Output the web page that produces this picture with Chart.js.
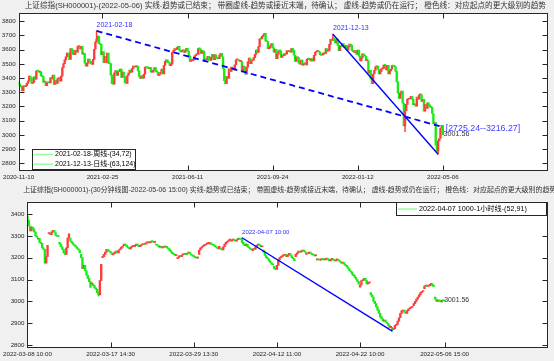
<!DOCTYPE html>
<html>
<head>
<meta charset="utf-8">
<script src="https://cdn.jsdelivr.net/npm/chart.js@4.4.0/dist/chart.umd.min.js"></script>
<style>
  html, body { margin: 0; padding: 0; background: #f0f0f0; }
  #wrap { position: relative; width: 554px; height: 361px; overflow: hidden; }
  .box { position: absolute; left: 0; width: 554px; }
</style>
</head>
<body>
<div id="wrap">
  <div class="box" style="top:0;height:183px"><canvas id="dayChart"></canvas></div>
  <div class="box" style="top:183px;height:178px"><canvas id="minChart"></canvas></div>
</div>
<script>
// ---- daily panel data (SH000001, 2020-11-10 .. 2022-05-06, closes) ----
const dayFirstOpen = 3373;
const dayCloses = [
  3360,3342,3338,3310,3346,3339,3347,3363,3378,3414,3402,3362,3369,3408,3392,
  3451,3449,3442,3444,3416,3410,3371,3373,3347,3369,3367,3366,3404,3394,3421,3356,3382,3363,3396,3397,3379,3414,3473,
  3502,3528,3550,3576,3570,3531,3608,3598,3566,3566,3596,3583,3621,3621,3606,3624,3569,3573,3505,3483,
  3505,3533,3517,3501,3496,3532,3603,3655,3675,3696,3642,3637,3564,3585,3509,
  3551,3508,3576,3503,3502,3421,3360,3357,3436,3453,3419,3446,3445,3463,3404,3443,3411,3367,3363,3418,3435,3457,3441,
  3466,3484,3478,3479,3482,3450,3412,3397,3416,3399,3427,3477,3473,3472,3466,3474,3441,3442,3457,3474,3447,
  3442,3419,3427,3441,3463,3429,3490,3517,3529,3510,3507,3487,3497,3581,3593,3608,3601,3615,
  3624,3597,3584,3592,3599,3580,3591,3610,3590,3556,3518,3525,3525,3529,3557,3566,3566,3607,3606,3574,3591,
  3588,3518,3534,3530,3553,3525,3524,3548,3567,3529,3564,3540,3539,3537,3562,3574,3550,3467,3382,3361,3412,3397,
  3465,3447,3477,3466,3458,3494,3529,3532,3524,3517,3517,3446,3485,3465,3427,3477,3514,3540,3501,3522,3528,3544,
  3567,3597,3581,3621,3676,3675,3693,3703,3715,3662,3656,3607,3613,3628,3642,3613,3582,3602,3536,3568,
  3592,3591,3546,3561,3558,3572,3568,3593,3587,3594,3582,3609,3597,3562,3518,3547,
  3544,3505,3498,3526,3491,3498,3507,3492,3532,3539,3533,3521,3537,3520,3560,3582,3589,3592,3584,3564,3562,3564,
  3577,3573,3607,3589,3595,3637,3673,3666,3681,3662,3647,3675,3632,3593,3625,3622,3643,3618,3615,3630,3597,3619,3640,
  3632,3595,3586,3580,3593,3567,3597,3555,3521,3541,3570,3558,3555,3523,3524,3434,3455,3394,3361,
  3429,3453,3479,3485,3462,3429,3447,3465,3468,3491,3490,3457,3489,3429,3451,3462,
  3488,3484,3481,3447,3373,3293,3256,3296,3309,3223,3064,3170,3215,3251,3253,3259,3271,3250,3212,3214,3203,3266,3252,
  3282,3283,3236,3251,3167,3213,3186,3225,3211,3195,3194,3151,3079,3087,2928,2886,2958,2975,3047,
  3068,3001.56
];
// [index, low, high] for the visible shadows
const dayWicks = [[66, 3655, 3731.69], [266, 3666, 3708.94], [327, 3023.3, 3170], [355, 2863.65, 2958]];
const dayTickIdx = [0, 71, 143, 215, 287, 359];
const dayTickLabels = ['2020-11-10', '2021-02-25', '2021-06-11', '2021-09-24', '2022-01-12', '2022-05-06'];
const dayYTicks = [2800, 2900, 3000, 3100, 3200, 3300, 3400, 3500, 3600, 3700, 3800];
const dayDashed = [{x: 66, y: 3731.69}, {x: 359, y: 3055}];
const daySolid = [{x: 266, y: 3708.94}, {x: 355, y: 2863.65}];

// ---- 30 minute panel data (2022-03-08 10:00 .. 2022-05-06 15:00) ----
const minDayOpens = [3390,3285,3310,3270,3290,3215,3080,3200,3212,3255,3250,3262,3262,3252,3195,3220,3215,3262,3245,3275,
  3285,3232,3235,3160,3210,3205,3215,3190,3196,3190,3150,3065,3040,2930,2880,2955,2980,3058,3020];
const minCloses = [
  3372,3345,3322,3340,3332,3318,3300,3293,  3288,3270,3265,3245,3238,3175,3205,3256,
  3312,3305,3318,3325,3315,3302,3298,3296,  3262,3250,3238,3222,3215,3245,3290,3309,
  3275,3268,3260,3255,3248,3242,3235,3223,  3200,3150,3165,3140,3120,3105,3090,3064,
  3080,3072,3062,3055,3040,3030,3095,3170,  3205,3215,3225,3238,3232,3228,3222,3215,
  3218,3225,3230,3222,3235,3240,3248,3251,  3262,3258,3250,3245,3240,3248,3252,3253,
  3255,3262,3258,3250,3255,3260,3262,3259,  3266,3272,3268,3270,3275,3273,3270,3271,
  3258,3254,3248,3252,3245,3250,3248,3250,  3245,3240,3232,3225,3218,3215,3210,3212,
  3200,3208,3205,3212,3218,3215,3220,3214,  3225,3218,3212,3208,3205,3200,3198,3203,
  3235,3245,3250,3255,3258,3262,3265,3266,  3268,3262,3258,3255,3250,3245,3240,3252,
  3240,3235,3250,3262,3270,3275,3280,3282,  3278,3285,3280,3276,3282,3288,3285,3283,
  3270,3260,3255,3262,3250,3245,3240,3236,  3240,3238,3250,3258,3262,3255,3250,3251,
  3225,3210,3200,3195,3185,3178,3170,3167,  3150,3146,3165,3190,3200,3205,3210,3213,
  3215,3205,3212,3220,3210,3200,3195,3186,  3215,3222,3230,3225,3228,3235,3230,3225,
  3222,3218,3225,3220,3215,3212,3208,3211,  3192,3190,3188,3195,3192,3190,3193,3195,
  3190,3185,3192,3195,3188,3185,3190,3194,  3185,3180,3175,3178,3170,3165,3158,3151,
  3140,3135,3125,3118,3110,3100,3090,3079,  3075,3095,3100,3106,3095,3080,3085,3087,
  3030,3020,3000,2990,2975,2960,2945,2928,  2920,2910,2915,2905,2900,2890,2880,2886,
  2870,2875,2890,2895,2910,2925,2945,2958,  2960,2950,2945,2958,2965,2970,2972,2975,
  2990,3000,3010,3020,3030,3040,3045,3047,  3070,3075,3068,3072,3078,3080,3070,3068,
  3010,3000,3005,3002,2998,3005,3003,3001.56
];
const minWicks = [[53, 3023.3, 3040], [272, 2863.65, 2880], [160, 3270, 3291]];
const minTickIdx = [0, 62, 124, 186, 248, 311];
const minTickLabels = ['2022-03-08 10:00', '2022-03-17 14:30', '2022-03-29 13:30', '2022-04-12 11:00', '2022-04-22 10:00', '2022-05-06 15:00'];
const minYTicks = [2800, 2900, 3000, 3100, 3200, 3300, 3400];
const minSolid = [{x: 160, y: 3291}, {x: 272, y: 2863.65}];

const FONT = "'Liberation Sans', Arial, 'Noto Sans CJK SC', sans-serif";
const UP = '#ff3b3b', DOWN = '#14ec14', BLUE = '#0000ff', LEG_GREEN = '#9cfc9c';

function candleSet(closes, openOf) {
  return closes.map((c, i) => ({x: i, y: [openOf(i), c]}));
}
function colorOf(ctx) {
  const r = ctx.raw;
  return r && r.y[1] >= r.y[0] ? UP : DOWN;
}
function wickSet(wicks, bodies) {
  return wicks.map(w => ({x: w[0], y: [w[1], w[2]], up: bodies[w[0]].y[1] >= bodies[w[0]].y[0]}));
}

// draws the box, inward ticks, title, notes and legend
const matlabBox = {
  id: 'matlabBox',
  beforeDraw(chart) {
    const a = chart.chartArea, ctx = chart.ctx;
    ctx.save();
    ctx.fillStyle = '#ffffff';
    ctx.fillRect(a.left, a.top, a.right - a.left, a.bottom - a.top);
    ctx.restore();
  },
  afterDraw(chart, args, opts) {
    const ctx = chart.ctx, a = chart.chartArea, xs = chart.scales.x, ys = chart.scales.y;
    ctx.save();
    ctx.strokeStyle = '#262626';
    ctx.lineWidth = 1;
    const L = Math.round(a.left) + 0.5, R = Math.round(a.right) - 0.5;
    const T = Math.round(a.top) + 0.5, B = Math.round(a.bottom) - 0.5;
    ctx.strokeRect(L, T, R - L, B - T);
    ctx.beginPath();
    xs.ticks.forEach(t => {
      const p = Math.round(xs.getPixelForValue(t.value)) + 0.5;
      ctx.moveTo(p, B); ctx.lineTo(p, B - 5);
      ctx.moveTo(p, T); ctx.lineTo(p, T + 5);
    });
    ys.ticks.forEach(t => {
      const p = Math.round(ys.getPixelForValue(t.value)) + 0.5;
      ctx.moveTo(L, p); ctx.lineTo(L + 5, p);
      ctx.moveTo(R, p); ctx.lineTo(R - 5, p);
    });
    ctx.stroke();

    // title
    ctx.fillStyle = '#333333';
    ctx.font = opts.titleSize + 'px ' + FONT;
    ctx.textAlign = 'center';
    ctx.textBaseline = 'middle';
    ctx.fillText(opts.title, (a.left + a.right) / 2 + 2, opts.titleY);

    // notes placed in data units
    ctx.textAlign = 'left';
    opts.notes.forEach(n => {
      ctx.font = n.size + 'px ' + FONT;
      ctx.fillStyle = n.color;
      ctx.fillText(n.text, xs.getPixelForValue(n.x), ys.getPixelForValue(n.y));
    });

    // legend
    const lg = opts.legend;
    ctx.fillStyle = '#ffffff';
    ctx.fillRect(lg.x, lg.y, lg.w, lg.h);
    ctx.strokeStyle = '#262626';
    ctx.strokeRect(lg.x + 0.5, lg.y + 0.5, lg.w - 1, lg.h - 1);
    ctx.font = lg.size + 'px ' + FONT;
    lg.items.forEach((txt, i) => {
      const yy = lg.y + lg.first + i * lg.step;
      ctx.strokeStyle = LEG_GREEN;
      ctx.lineWidth = 1.5;
      ctx.beginPath();
      ctx.moveTo(lg.x + 2, yy); ctx.lineTo(lg.x + 21, yy);
      ctx.stroke();
      ctx.fillStyle = '#000000';
      ctx.fillText(txt, lg.x + 23, yy);
    });
    ctx.restore();
  }
};

function makeChart(id, cfg) {
  const bodies = cfg.bodies;
  const wicks = wickSet(cfg.wicks, bodies);
  const datasets = [
    {type: 'bar', data: wicks, barThickness: 0.8, grouped: false, order: 3,
     backgroundColor: ctx => (ctx.raw && ctx.raw.up ? UP : DOWN)},
    {type: 'bar', data: bodies, barThickness: 1.7, grouped: false, order: 2, minBarLength: 1,
     backgroundColor: colorOf}
  ];
  cfg.lines.forEach(l => datasets.push({
    type: 'line', data: l.data, borderColor: BLUE, borderWidth: l.width,
    borderDash: l.dash || [], pointRadius: 0, order: 1
  }));
  return new Chart(document.getElementById(id), {
    type: 'bar',
    data: {datasets},
    options: {
      responsive: true,
      maintainAspectRatio: false,
      animation: false,
      events: [],
      layout: {padding: {left: 0, right: 6, top: cfg.padTop, bottom: 0}},
      scales: {
        x: {
          type: 'linear', offset: false, min: 0, max: cfg.xMax,
          grid: {display: false, drawTicks: false, tickLength: 0}, border: {display: false},
          afterFit: s => { s.height = cfg.xAxisH; },
          afterBuildTicks: s => { s.ticks = cfg.xTicks.map(v => ({value: v})); },
          ticks: {
            autoSkip: false, maxRotation: 0, padding: 3, color: '#262626',
            font: {family: FONT, size: 6.2},
            callback: (v, i) => cfg.xLabels[i]
          }
        },
        y: {
          type: 'linear', min: cfg.yMin, max: cfg.yMax,
          grid: {display: false, drawTicks: false, tickLength: 0}, border: {display: false},
          afterFit: s => { s.width = 18; },
          afterBuildTicks: s => { s.ticks = cfg.yTicks.map(v => ({value: v})); },
          ticks: {padding: 3, color: '#262626', font: {family: FONT, size: 6.2},
            callback: v => String(v)}
        }
      },
      plugins: {
        legend: {display: false},
        tooltip: {enabled: false},
        matlabBox: cfg.box
      }
    },
    plugins: [matlabBox]
  });
}

makeChart('dayChart', {
  bodies: candleSet(dayCloses, i => (i === 0 ? dayFirstOpen : dayCloses[i - 1])),
  wicks: dayWicks,
  lines: [{data: dayDashed, width: 1.8, dash: [6, 4]}, {data: daySolid, width: 1.4}],
  padTop: 13, xAxisH: 12, xMax: 448, yMin: 2746, yMax: 3858,
  xTicks: dayTickIdx, xLabels: dayTickLabels, yTicks: dayYTicks,
  box: {
    title: '上证综指(SH000001)-(2022-05-06) 实线-趋势或已结束； 带圈虚线-趋势或接近末端，待确认； 虚线-趋势或仍在运行； 橙色线：对应起点的更大级别的趋势',
    titleSize: 7.6, titleY: 5.5,
    notes: [
      {text: '2021-02-18', x: 66, y: 3772, size: 7, color: '#3030ff'},
      {text: '2021-12-13', x: 266, y: 3749, size: 7, color: '#3030ff'},
      {text: '[2725.24--3216.27]', x: 361.5, y: 3048, size: 8.8, color: '#3c3cff'},
      {text: '3001.56', x: 359.5, y: 3006, size: 7.2, color: '#333333'}
    ],
    legend: {x: 32, y: 149, w: 104, h: 21, size: 7, first: 5.5, step: 9.7,
      items: ['2021-02-18-周线-(34,72)', '2021-12-13-日线-(63,124)']}
  }
});

makeChart('minChart', {
  bodies: candleSet(minCloses, i => (i % 8 === 0 ? minDayOpens[i / 8] : minCloses[i - 1])),
  wicks: minWicks,
  lines: [{data: minSolid, width: 1.4}],
  padTop: 18.7, xAxisH: 13.5, xMax: 388.1, yMin: 2789, yMax: 3456,
  xTicks: minTickIdx, xLabels: minTickLabels, yTicks: minYTicks,
  box: {
    title: '上证综指(SH000001)-(30分钟线图-2022-05-06 15:00) 实线-趋势或已结束； 带圈虚线-趋势或接近末端，待确认； 虚线-趋势或仍在运行； 橙色线：对应起点的更大级别的趋势',
    titleSize: 6.95, titleY: 7,
    notes: [
      {text: '2022-04-07 10:00', x: 160, y: 3316, size: 6, color: '#3030ff'},
      {text: '3001.56', x: 310.7, y: 3006, size: 6.9, color: '#333333'}
    ],
    legend: {x: 396, y: 19, w: 151, h: 14, size: 7.2, first: 7, step: 9,
      items: ['2022-04-07 1000-1小时线-(52,91)']}
  }
});
</script>
</body>
</html>
